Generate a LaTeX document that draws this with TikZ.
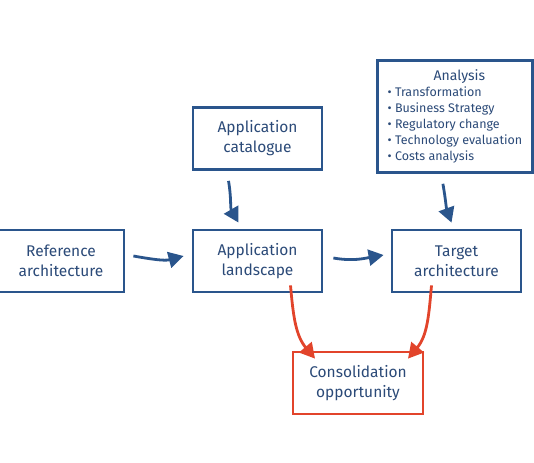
\documentclass[tikz,border=0pt]{standalone}
\usepackage{fontspec}
\setmainfont{Fira Sans}
\usetikzlibrary{arrows.meta}
\definecolor{sblue}{HTML}{2A558C}
\definecolor{sred}{HTML}{E2442B}
\definecolor{stext}{HTML}{2B4A78}
\begin{document}
\begin{tikzpicture}[x=1pt,y=-1pt,
  box/.style={draw=sblue,line width=2.8pt,fill=white,align=center,inner sep=0pt,
    text=stext,font=\fontsize{15.5}{20}\selectfont},
  redbox/.style={box,draw=sred},
  arr/.style={draw=sblue,line width=2.8pt,-{Triangle[length=15pt,width=16pt,fill=sblue]}},
  rarr/.style={draw=sred,line width=2.8pt,-{Triangle[length=15pt,width=16pt,fill=sred]}}]
\path[use as bounding box] (0,0) rectangle (534,462);
\node[box,minimum width=129pt,minimum height=62pt] (cat) at (257.5,138.5) {Application\\catalogue};
\node[box,minimum width=155pt,minimum height=112pt,anchor=north west,align=left,
  font=\fontsize{12.5}{16}\selectfont] (ana) at (376,59)
  {\hspace*{46pt}\fontsize{14}{16}\selectfont Analysis\\
   \textbullet\ Transformation\\
   \textbullet\ Business Strategy\\
   \textbullet\ Regulatory change\\
   \textbullet\ Technology evaluation\\
   \textbullet\ Costs analysis};
\node[box,minimum width=126pt,minimum height=62pt] (ref) at (61,261) {Reference\\architecture};
\node[box,minimum width=129pt,minimum height=62pt] (land) at (257.5,261) {Application\\landscape};
\node[box,minimum width=129pt,minimum height=62pt] (tgt) at (456.5,261) {Target\\architecture};
\node[redbox,minimum width=130pt,minimum height=62pt] (con) at (358,383) {Consolidation\\opportunity};
\draw[arr] ([xshift=-29pt,yshift=-10pt]cat.south) to[out=-80,in=120] ([xshift=-19pt,yshift=6pt]land.north);
\draw[arr] ([xshift=-12pt,yshift=-10pt]ana.south) to[out=-80,in=110] ([xshift=-5pt,yshift=6pt]tgt.north);
\draw[arr] ([xshift=8pt,yshift=5pt]ref.east) to[out=-10,in=195] ([xshift=-8pt,yshift=5pt]land.west);
\draw[arr] ([xshift=10pt,yshift=3pt]land.east) to[out=-10,in=190] ([xshift=-7pt,yshift=6pt]tgt.west);
\draw[rarr] ([xshift=33pt,yshift=8pt]land.south) to[out=-85,in=130] ([xshift=-43pt,yshift=-8pt]con.north);
\draw[rarr] ([xshift=-25pt,yshift=8pt]tgt.south) to[out=-95,in=50] ([xshift=50pt,yshift=-8pt]con.north);
\end{tikzpicture}
\end{document}
